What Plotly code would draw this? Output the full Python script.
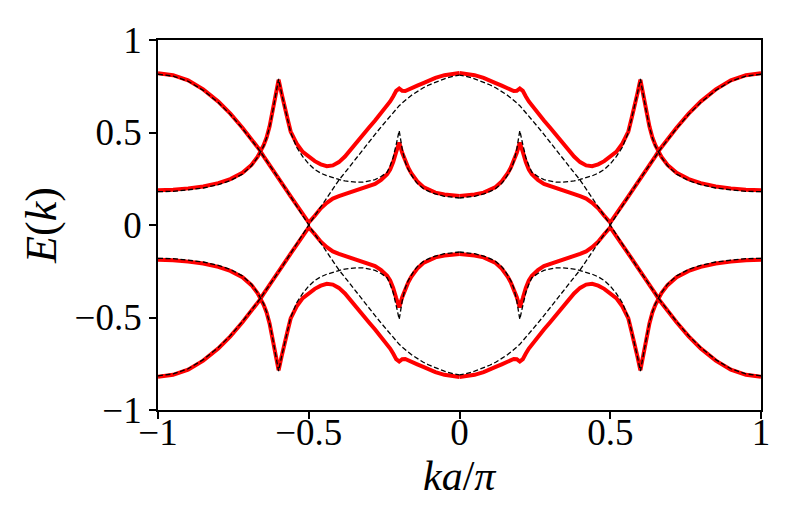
import plotly.graph_objects as go

# k grid (ka/pi) for the left half, and the mirrored right half
K_LEFT = [-1.00, -0.95, -0.90, -0.85, -0.80, -0.76, -0.72, -0.69, -0.67, -0.66,
          -0.65, -0.64, -0.63, -0.62, -0.61, -0.60, -0.59, -0.58, -0.57, -0.56,
          -0.54, -0.52, -0.50, -0.48, -0.46, -0.44, -0.42, -0.40, -0.38, -0.36,
          -0.34, -0.32, -0.30, -0.28, -0.26, -0.24, -0.23, -0.22, -0.21, -0.20,
          -0.19, -0.18, -0.17, -0.16, -0.15, -0.14, -0.12, -0.10, -0.08, -0.05,
          -0.02, 0.00]
K_RIGHT = [1.00, 0.95, 0.90, 0.85, 0.80, 0.76, 0.72, 0.69, 0.67, 0.66,
           0.65, 0.64, 0.63, 0.62, 0.61, 0.60, 0.59, 0.58, 0.57, 0.56,
           0.54, 0.52, 0.50, 0.48, 0.46, 0.44, 0.42, 0.40, 0.38, 0.36,
           0.34, 0.32, 0.30, 0.28, 0.26, 0.24, 0.23, 0.22, 0.21, 0.20,
           0.19, 0.18, 0.17, 0.16, 0.15, 0.14, 0.12, 0.10, 0.08, 0.05,
           0.02, 0.00]

# red bands (upper two)
RED_TOP = [0.820, 0.810, 0.782, 0.733, 0.667, 0.602, 0.526, 0.466, 0.422, 0.400,
           0.430, 0.472, 0.532, 0.610, 0.710, 0.785, 0.710, 0.632, 0.572, 0.505,
           0.440, 0.395, 0.368, 0.345, 0.328, 0.318, 0.322, 0.340, 0.370, 0.410,
           0.455, 0.490, 0.527, 0.565, 0.605, 0.645, 0.668, 0.695, 0.725, 0.738,
           0.725, 0.724, 0.730, 0.738, 0.746, 0.753, 0.767, 0.782, 0.795, 0.810,
           0.820, 0.822]
RED_MID = [0.188, 0.190, 0.198, 0.208, 0.226, 0.248, 0.282, 0.325, 0.368, 0.398,
           0.372, 0.349, 0.326, 0.302, 0.278, 0.253, 0.229, 0.204, 0.179, 0.155,
           0.105, 0.056, 0.013, 0.050, 0.090, 0.120, 0.143, 0.156, 0.167, 0.178,
           0.188, 0.198, 0.209, 0.222, 0.243, 0.275, 0.300, 0.340, 0.395, 0.445,
           0.390, 0.345, 0.310, 0.280, 0.255, 0.235, 0.205, 0.187, 0.175, 0.165,
           0.159, 0.157]
# red bands (lower two)
RED_BOT = [-0.820, -0.810, -0.782, -0.733, -0.667, -0.602, -0.526, -0.466, -0.422, -0.400,
           -0.430, -0.472, -0.532, -0.610, -0.710, -0.785, -0.710, -0.632, -0.572, -0.505,
           -0.440, -0.395, -0.368, -0.345, -0.328, -0.318, -0.322, -0.340, -0.370, -0.410,
           -0.455, -0.490, -0.527, -0.565, -0.605, -0.645, -0.668, -0.695, -0.725, -0.738,
           -0.725, -0.724, -0.730, -0.738, -0.746, -0.753, -0.767, -0.782, -0.795, -0.810,
           -0.820, -0.822]
RED_LOW = [-0.188, -0.190, -0.198, -0.208, -0.226, -0.248, -0.282, -0.325, -0.368, -0.398,
           -0.372, -0.349, -0.326, -0.302, -0.278, -0.253, -0.229, -0.204, -0.179, -0.155,
           -0.105, -0.056, -0.013, -0.050, -0.090, -0.120, -0.143, -0.156, -0.167, -0.178,
           -0.188, -0.198, -0.209, -0.222, -0.243, -0.275, -0.300, -0.340, -0.395, -0.445,
           -0.390, -0.345, -0.310, -0.280, -0.255, -0.235, -0.205, -0.187, -0.175, -0.165,
           -0.159, -0.157]

# dashed reference bands
DASH_COS = [0.815, 0.805, 0.777, 0.728, 0.662, 0.598, 0.522, 0.462, 0.418, 0.395,
            0.372, 0.349, 0.326, 0.302, 0.278, 0.253, 0.229, 0.204, 0.179, 0.154,
            0.103, 0.051, 0.000, 0.050, 0.100, 0.148, 0.196, 0.243, 0.283, 0.325,
            0.370, 0.412, 0.452, 0.490, 0.530, 0.570, 0.590, 0.610, 0.628, 0.645,
            0.660, 0.675, 0.688, 0.700, 0.711, 0.722, 0.742, 0.758, 0.772, 0.790,
            0.805, 0.810]
DASH_FLAT = [0.180, 0.182, 0.190, 0.200, 0.218, 0.240, 0.275, 0.320, 0.365, 0.395,
             0.425, 0.470, 0.530, 0.610, 0.710, 0.790, 0.710, 0.630, 0.570, 0.500,
             0.420, 0.370, 0.330, 0.300, 0.280, 0.266, 0.255, 0.246, 0.238, 0.233,
             0.231, 0.232, 0.237, 0.245, 0.262, 0.285, 0.320, 0.365, 0.435, 0.510,
             0.410, 0.340, 0.300, 0.270, 0.245, 0.225, 0.197, 0.180, 0.168, 0.155,
             0.148, 0.146]
DASH_COS_NEG = [-0.815, -0.805, -0.777, -0.728, -0.662, -0.598, -0.522, -0.462, -0.418, -0.395,
                -0.372, -0.349, -0.326, -0.302, -0.278, -0.253, -0.229, -0.204, -0.179, -0.154,
                -0.103, -0.051, 0.000, -0.050, -0.100, -0.148, -0.196, -0.243, -0.283, -0.325,
                -0.370, -0.412, -0.452, -0.490, -0.530, -0.570, -0.590, -0.610, -0.628, -0.645,
                -0.660, -0.675, -0.688, -0.700, -0.711, -0.722, -0.742, -0.758, -0.772, -0.790,
                -0.805, -0.810]
DASH_FLAT_NEG = [-0.180, -0.182, -0.190, -0.200, -0.218, -0.240, -0.275, -0.320, -0.365, -0.395,
                 -0.425, -0.470, -0.530, -0.610, -0.710, -0.790, -0.710, -0.630, -0.570, -0.500,
                 -0.420, -0.370, -0.330, -0.300, -0.280, -0.266, -0.255, -0.246, -0.238, -0.233,
                 -0.231, -0.232, -0.237, -0.245, -0.262, -0.285, -0.320, -0.365, -0.435, -0.510,
                 -0.410, -0.340, -0.300, -0.270, -0.245, -0.225, -0.197, -0.180, -0.168, -0.155,
                 -0.148, -0.146]

TICK_VALS = [-1, -0.5, 0, 0.5, 1]
TICK_TEXT = ["\u22121", "\u22120.5", "0", "0.5", "1"]
X_TITLE = "<i>ka</i>/<i>\u03c0</i>"
Y_TITLE = "<i>E</i>(<i>k</i>)"

FONT = "Liberation Serif"

fig = go.Figure()

def both_halves(vals):
    xs = K_LEFT + [None] + K_RIGHT
    ys = vals + [None] + vals
    return xs, ys

for band in [RED_TOP, RED_MID, RED_LOW, RED_BOT]:
    xs, ys = both_halves(band)
    fig.add_trace(go.Scatter(x=xs, y=ys, mode="lines",
                             line=dict(color="#ff0000", width=4),
                             hoverinfo="skip"))

for band in [DASH_COS, DASH_FLAT, DASH_COS_NEG, DASH_FLAT_NEG]:
    xs, ys = both_halves(band)
    fig.add_trace(go.Scatter(x=xs, y=ys, mode="lines",
                             line=dict(color="black", width=1.3, dash="5px,2.5px"),
                             hoverinfo="skip"))

axis_common = dict(
    tickvals=TICK_VALS, ticktext=TICK_TEXT,
    ticks="outside", ticklen=7, tickwidth=1.5, tickcolor="black",
    showline=True, linecolor="black", linewidth=1.8, mirror=True,
    showgrid=False, zeroline=False,
    tickfont=dict(family=FONT, size=37, color="black"),
)

fig.update_layout(
    width=789, height=526,
    margin=dict(l=150, r=36, t=26, b=124),
    plot_bgcolor="white", paper_bgcolor="white",
    showlegend=False,
    xaxis=dict(range=[-1, 1], ticklabelstandoff=-18, **axis_common),
    yaxis=dict(range=[-1, 1], ticklabelstandoff=0,
               title=dict(text=Y_TITLE,
                          font=dict(family=FONT, size=44, color="black"),
                          standoff=4),
               **axis_common),
    annotations=[dict(text=X_TITLE, xref="paper", yref="paper",
                      x=0.5, y=-0.178, xanchor="center", yanchor="middle",
                      showarrow=False,
                      font=dict(family=FONT, size=42, color="black"))],
)

fig.write_html("out.html")
